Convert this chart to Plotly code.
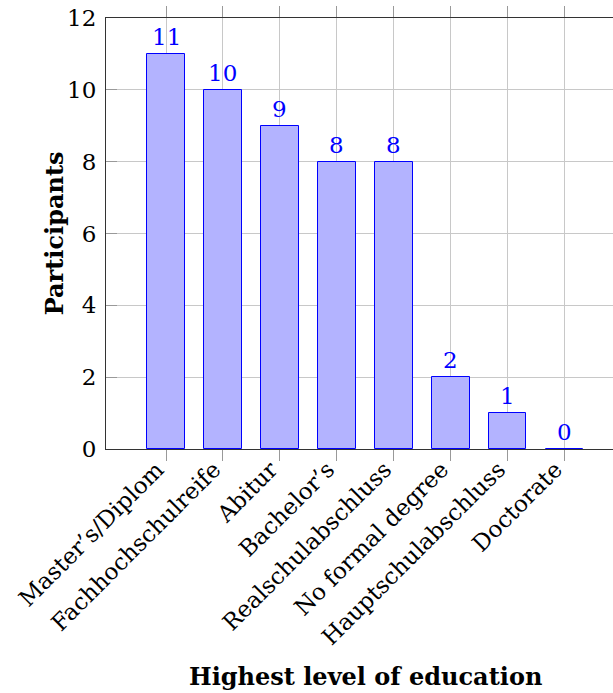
import plotly.graph_objects as go

# Highest level of education reported by participants
categories = ["Master’s/Diplom", "Fachhochschulreife", "Abitur", "Bachelor’s",
              "Realschulabschluss", "No formal degree", "Hauptschulabschluss", "Doctorate"]
participants = [11, 10, 9, 8, 8, 2, 1, 0]
y_ticks = [0, 2, 4, 6, 8, 10, 12]

FONT = "DejaVu Serif"
SIZE = 23
TITLE_SIZE = 24
BLUE = "#0000ff"
FILL = "#b3b3ff"
GRID = "#c8c8c8"

x_pos = list(range(len(categories)))

fig = go.Figure()
fig.add_trace(go.Bar(
    x=x_pos,
    y=participants,
    width=0.66,
    marker=dict(color=FILL, line=dict(color=BLUE, width=1)),
    showlegend=False,
    hoverinfo="skip",
))

# value labels above each bar
for xi, v in zip(x_pos, participants):
    fig.add_annotation(x=xi, y=v, xref="x", yref="y", text=str(v),
                       showarrow=False, yanchor="bottom", yshift=2,
                       font=dict(family=FONT, size=SIZE, color=BLUE))

W, H = 613, 693
L, T, B = 105.7, 18.2, 244

# axis titles
fig.add_annotation(x=3.5, xref="x", y=(H - 676 - B) / (H - T - B), yref="paper",
                   yanchor="middle", text="<b>Highest level of education</b>",
                   showarrow=False, font=dict(family=FONT, size=TITLE_SIZE, color="black"))
fig.add_annotation(x=(38 - L) / (W - L), xref="paper", y=6, yref="y",
                   text="<b>Participants</b>", showarrow=False, textangle=-90,
                   font=dict(family=FONT, size=TITLE_SIZE, color="black"))

fig.update_layout(
    width=W, height=H,
    margin=dict(l=L, r=0, t=T, b=B, pad=0),
    paper_bgcolor="white", plot_bgcolor="white",
    font=dict(family=FONT, size=SIZE, color="black"),
    bargap=0,
)

fig.update_xaxes(
    range=[-1.054, 7.85],
    tickmode="array", tickvals=x_pos, ticktext=categories, tickangle=-45,
    ticks="outside", ticklen=11, tickcolor="#999999", tickwidth=1,
    ticklabelstandoff=-14, ticklabelshift=-9,
    showgrid=True, gridcolor=GRID, gridwidth=1,
    showline=True, linecolor="#333333", linewidth=1, mirror="ticks",
    zeroline=False, automargin=False,
    tickfont=dict(family=FONT, size=SIZE, color="black"),
)
fig.update_yaxes(
    range=[0, 12],
    tickmode="array", tickvals=y_ticks,
    ticks="inside", ticklen=11, tickcolor="#999999", tickwidth=1,
    ticklabelstandoff=4,
    showgrid=True, gridcolor=GRID, gridwidth=1,
    showline=True, linecolor="#333333", linewidth=1, mirror=False,
    zeroline=False, automargin=False,
    tickfont=dict(family=FONT, size=SIZE, color="black"),
)

fig.write_html("out.html")
